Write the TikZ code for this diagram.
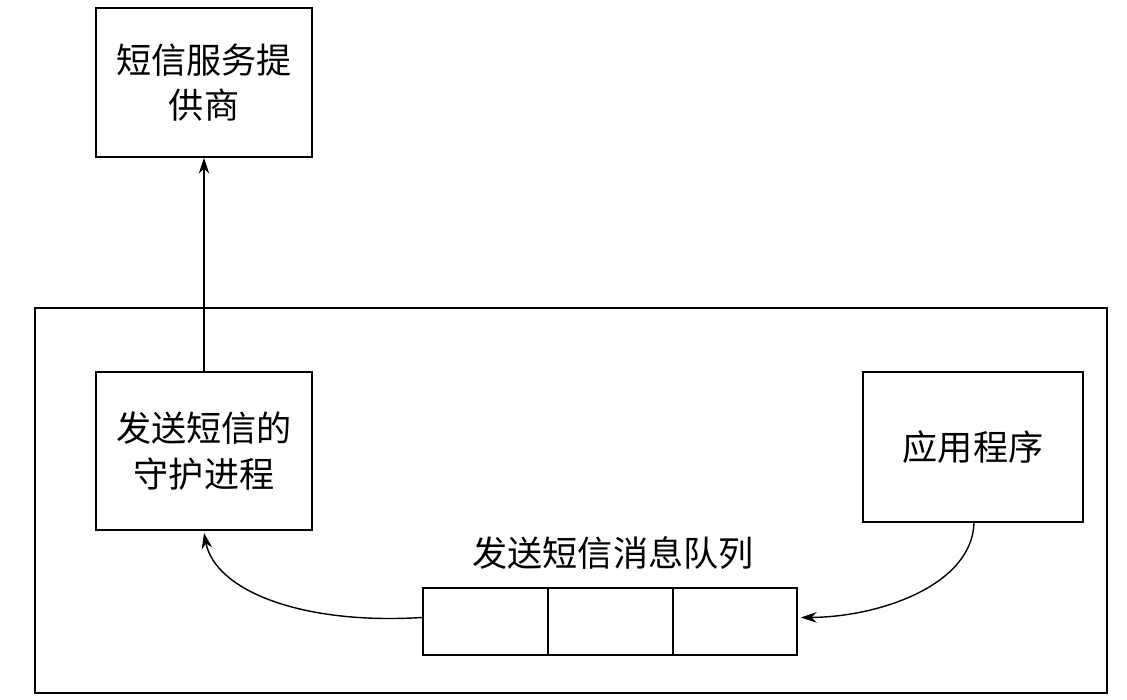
\documentclass[tikz,border=0pt]{standalone}
\usepackage{fontspec}
\setmainfont{Noto Sans CJK SC}
\begin{document}
\begin{tikzpicture}[x=0.02cm,y=-0.02cm,
  box/.style={draw,line width=1pt,inner sep=0pt},
  lbl/.style={font=\fontsize{20}{26}\selectfont,align=center},
  arr/.style={-{Stealth[length=9pt,width=6pt]},line width=0.8pt}]
\usetikzlibrary{arrows.meta}
\useasboundingbox (0,0) rectangle (1127,700);
\draw[line width=1.2pt] (35,308) rectangle (1107,693);
\node[box,minimum width=216*0.02cm,minimum height=149*0.02cm] (sp) at (204,82.5) {};
\node[lbl] at (sp) {短信服务提\\供商};
\node[box,minimum width=216*0.02cm,minimum height=158*0.02cm] (dm) at (204,451) {};
\node[lbl] at (dm) {发送短信的\\守护进程};
\node[box,minimum width=220*0.02cm,minimum height=150*0.02cm] (app) at (973,447) {};
\node[lbl] at (app) {应用程序};
\node[box,minimum width=125*0.02cm,minimum height=67*0.02cm] (q1) at (485.5,621.5) {};
\node[box,minimum width=125*0.02cm,minimum height=67*0.02cm] (q2) at (610.5,621.5) {};
\node[box,minimum width=124*0.02cm,minimum height=67*0.02cm] (q3) at (735,621.5) {};
\node[lbl] (ql) at (613,553) {发送短信消息队列};
\draw[arr] (dm.north) -- (sp.south);
\draw[arr] ([yshift=-0.02cm*(-4)]q1.west) .. controls (300,625) and (215,590) .. ([yshift=-0.04cm]dm.south);
\draw[arr] ([xshift=-0.02cm*(-1)]app.south) .. controls (972,585) and (880,617) .. ([xshift=0.06cm,yshift=0.08cm]q3.east);
\end{tikzpicture}
\end{document}
